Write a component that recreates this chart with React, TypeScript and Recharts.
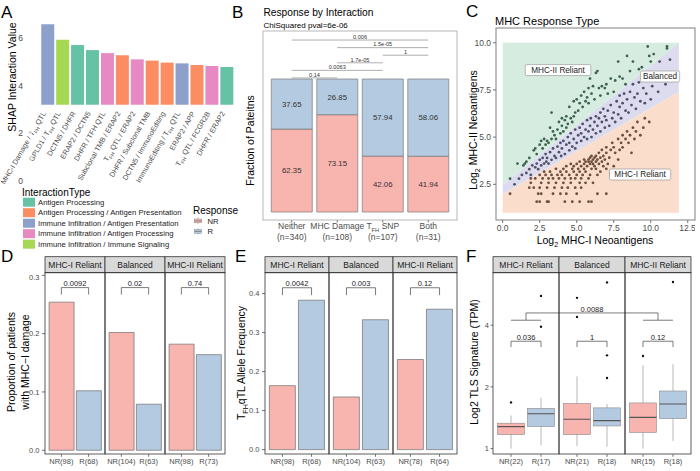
import React from 'react'
import {
  Area,
  Bar,
  BarChart,
  Cell,
  ComposedChart,
  LabelList,
  ReferenceDot,
  ReferenceLine,
  Scatter,
  XAxis,
  YAxis,
} from 'recharts'

// ---- shared look ----
const FONT = '"Liberation Sans", Arial, Helvetica, sans-serif'
const TICK = '#4D4D4D'
const NR_FILL = '#F8B4AE'
const R_FILL = '#B3CAE1'
const M0 = { top: 0, right: 0, bottom: 0, left: 0 }

// ---- A: SHAP interaction values ----
const INTERACTION_TYPES = [
  'Antigen Processing',
  'Antigen Processing / Antigen Presentation',
  'Immune Infiltration / Antigen Presentation',
  'Immune Infiltration / Antigen Processing',
  'Immune Infiltration / Immune Signaling',
]
const TYPE_COLORS = ['#66C2A5', '#FC8D62', '#8DA0CB', '#E78AC3', '#A6D854']
const SHAP_PAIRS = [
  'MHC-I Damage / T_{FH} QTL',
  'GPLD1 / T_{FH} QTL',
  'DCTN5 / DHFR',
  'ERAP2 / DCTN5',
  'DHFR / TFH QTL',
  'Subclonal TMB / ERAP2',
  'T_{FH} QTL / ERAP2',
  'DHFR / Subclonal TMB',
  'DCTN5 / ImmunoEditing',
  'ImmunoEditing / T_{FH} QTL',
  'ERAP2 / APP',
  'T_{FH} QTL / FCGR2B',
  'DHFR / ERAP2',
]
const SHAP_VALUES = [6.42, 5.18, 4.76, 4.36, 4.12, 3.94, 3.62, 3.52, 3.36, 3.3, 3.17, 3.09, 3.01]
const SHAP_TYPE = [2, 4, 0, 0, 3, 1, 3, 1, 1, 2, 1, 3, 0]
const SHAP_TICKS = [0, 2, 4, 6]
const SHAP_DOMAIN = [-0.34, 6.76]
const RESPONSES = ['NR', 'R']

// ---- B: response by interaction ----
const B_GROUPS = ['Neither', 'MHC Damage', 'T_{FH} SNP', 'Both']
const B_COUNTS = ['(n=340)', '(n=108)', '(n=107)', '(n=31)']
const B_NR = [62.35, 73.15, 42.06, 41.94]
const B_R = [37.65, 26.85, 57.94, 58.06]
const B_PAIR_FROM = ['Neither', 'MHC Damage', 'T_{FH} SNP', 'MHC Damage', 'Neither', 'Neither']
const B_PAIR_TO = ['Both', 'Both', 'Both', 'T_{FH} SNP', 'T_{FH} SNP', 'MHC Damage']
const B_PAIR_P = ['0.006', '1.5e-05', '1', '1.7e-05', '0.0063', '0.14']
const B_PAIR_LEVEL = [5, 4, 3, 2, 1, 0]

// ---- C: MHC response type ----
const REGION_X = [0, 11.9]
const REGION_FLOOR = [1.0, 1.0]
const MHC1_EDGE = [1.98, 7.4]
const MHC2_EDGE = [2.47, 10.0]
const REGION_CEIL = [10.0, 10.0]
const REGION_NAMES = ['MHC-II Reliant', 'Balanced', 'MHC-I Reliant']
const REGION_TAG_X = [3.74, 10.63, 9.28]
const REGION_TAG_Y = [8.55, 8.21, 3.02]

const MHC2_POINTS = [
  [0.5, 2.8], [1.0, 3.6], [1.4, 3.5], [1.5, 3.6], [1.6, 3.7], [1.8, 3.9], [2.1, 4.3], [2.2, 4.4],
  [2.3, 4.1], [2.5, 4.6], [2.6, 4.8], [2.7, 4.4], [2.8, 4.9], [2.9, 4.6], [3.0, 4.8], [3.1, 4.7],
  [3.2, 5.5], [3.3, 6.3], [3.3, 4.9], [3.4, 5.3], [3.5, 5.1], [3.6, 4.9], [3.7, 5.4], [3.8, 5.8],
  [3.9, 5.2], [4.0, 5.6], [4.0, 6.0], [4.1, 5.3], [4.2, 5.9], [4.3, 5.5], [4.3, 6.1], [4.4, 5.7],
  [4.5, 6.6], [4.6, 6.0], [4.7, 5.8], [4.8, 6.9], [4.8, 6.1], [4.9, 6.3], [5.0, 7.0], [5.1, 6.4],
  [5.2, 6.8], [5.3, 7.2], [5.4, 6.6], [5.5, 7.4], [5.6, 6.9], [5.7, 7.1], [5.8, 7.6], [5.8, 6.8],
  [5.9, 8.1], [6.0, 7.3], [6.1, 7.7], [6.2, 7.0], [6.3, 8.4], [6.4, 8.5], [6.5, 7.6], [6.6, 7.2],
  [6.7, 7.7], [6.9, 7.6], [7.0, 7.8], [7.1, 7.3], [7.3, 8.1], [7.5, 7.4], [7.6, 8.0], [7.8, 9.0],
  [7.9, 8.2], [8.1, 8.1], [8.3, 7.8], [8.4, 9.3], [8.6, 8.5], [8.8, 9.0], [9.2, 8.6], [9.4, 8.7],
  [9.8, 9.8], [9.9, 9.3], [10.0, 9.0], [10.2, 9.4], [11.1, 9.8], [11.1, 9.7],
]
const BALANCED_POINTS = [
  [0.8, 2.5], [1.1, 2.8], [1.3, 3.0], [1.6, 3.1], [1.8, 3.3], [1.9, 3.0], [2.0, 3.5],
  [2.2, 3.4], [2.3, 3.6], [2.4, 3.3], [2.5, 3.8], [2.6, 3.5], [2.7, 3.9], [2.8, 3.6], [2.9, 4.1], [2.95, 3.7],
  [3.0, 3.9], [3.1, 3.6], [3.2, 4.2], [3.3, 3.8], [3.4, 4.4], [3.5, 4.0], [3.6, 3.9], [3.7, 4.5],
  [3.8, 4.2], [3.9, 4.7], [3.95, 4.0],
  [4.0, 4.4], [4.1, 4.8], [4.2, 4.1], [4.3, 4.6], [4.4, 5.0], [4.5, 4.3], [4.5, 4.7], [4.6, 5.2],
  [4.7, 4.5], [4.8, 4.9], [4.9, 5.4], [4.9, 4.4],
  [5.0, 4.7], [5.1, 5.1], [5.2, 5.5], [5.3, 4.8], [5.3, 5.2], [5.4, 5.7], [5.5, 5.0], [5.6, 5.4],
  [5.7, 5.9], [5.7, 4.9], [5.8, 5.3], [5.9, 5.6], [5.95, 6.0],
  [6.0, 5.0], [6.1, 5.4], [6.2, 5.8], [6.3, 6.1], [6.3, 5.2], [6.4, 5.6], [6.5, 6.0], [6.6, 5.3],
  [6.6, 6.3], [6.7, 5.8], [6.8, 6.5], [6.9, 5.5], [6.9, 6.1],
  [7.0, 5.9], [7.1, 6.4], [7.2, 5.6], [7.3, 6.7], [7.4, 6.0], [7.5, 6.3], [7.6, 5.8], [7.7, 6.9],
  [7.8, 6.2], [7.9, 6.6], [7.9, 7.2],
  [8.0, 6.0], [8.1, 6.8], [8.2, 7.3], [8.3, 6.4], [8.4, 7.0], [8.5, 6.3], [8.6, 7.4], [8.7, 6.7],
  [8.8, 7.8], [8.9, 7.1],
  [9.0, 6.5], [9.1, 7.3], [9.2, 7.9], [9.3, 6.9], [9.5, 7.6], [9.6, 6.8], [9.7, 7.3], [9.8, 8.2],
  [10.0, 7.0], [10.1, 7.7], [10.3, 8.0], [10.5, 7.4], [10.6, 9.0], [10.8, 8.1], [11.3, 9.1], [11.0, 7.8],
]
const MHC1_POINTS = [
  [2.3, 1.58], [2.5, 1.58], [3.0, 1.58], [3.1, 1.58], [4.2, 1.58], [4.7, 1.58], [5.2, 1.58], [5.8, 1.58], [6.0, 1.58],
  [0.5, 2.0], [2.4, 2.0], [2.6, 2.0], [3.4, 2.0], [3.9, 2.0], [4.3, 2.0], [5.0, 2.0], [6.4, 2.0], [7.0, 2.0],
  [1.8, 2.32], [2.1, 2.32], [2.5, 2.32], [3.0, 2.32], [3.5, 2.32], [4.0, 2.32], [4.4, 2.32], [4.9, 2.32], [5.3, 2.32],
  [1.9, 2.58], [2.6, 2.58], [3.1, 2.58], [3.6, 2.58], [4.1, 2.58], [4.6, 2.58], [5.2, 2.58], [5.6, 2.58], [6.1, 2.58],
  [1.9, 2.81], [2.2, 2.81], [2.7, 2.81], [3.1, 2.81], [3.4, 2.81], [3.8, 2.81], [4.2, 2.81], [4.6, 2.81],
  [4.9, 2.81], [5.3, 2.81], [5.8, 2.81],
  [2.5, 3.0], [2.9, 3.0], [3.3, 3.0], [3.7, 3.0], [4.0, 3.0], [4.5, 3.0], [5.0, 3.0], [5.4, 3.0],
  [5.9, 3.0], [6.4, 3.0], [7.3, 3.0],
  [2.8, 3.17], [3.2, 3.17], [3.9, 3.17], [4.3, 3.17], [4.8, 3.17], [5.2, 3.17], [5.6, 3.17], [6.6, 3.17],
  [3.6, 3.32], [4.1, 3.32], [4.7, 3.32], [5.1, 3.32], [5.5, 3.32], [6.0, 3.32], [6.3, 3.32], [7.0, 3.32],
  [4.3, 3.46], [4.8, 3.46], [5.3, 3.46], [5.7, 3.46], [6.2, 3.46], [6.8, 3.46], [7.5, 3.46],
  [4.6, 3.58], [5.0, 3.58], [5.5, 3.58], [5.9, 3.58], [6.1, 3.58], [6.5, 3.58], [7.1, 3.58],
  [5.2, 3.7], [5.6, 3.7], [5.8, 3.7], [6.0, 3.7], [6.3, 3.7], [6.7, 3.7],
  [5.5, 3.81], [5.8, 3.81], [6.1, 3.81], [6.4, 3.81], [6.9, 3.81], [7.8, 3.81],
  [5.9, 3.91], [6.2, 3.91], [6.6, 3.91], [7.2, 3.91],
  [6.0, 4.0], [6.3, 4.0], [6.8, 4.0],
  [6.5, 4.17], [7.0, 4.17], [7.6, 4.17], [8.7, 4.17],
  [6.7, 4.32], [7.3, 4.32], [7.9, 4.32],
  [7.0, 4.46], [7.5, 4.46], [8.1, 4.46],
  [7.4, 4.7], [8.0, 4.7], [8.5, 4.7],
  [7.8, 4.9], [8.3, 4.9], [8.9, 4.9],
  [8.1, 5.1], [8.6, 5.1], [9.3, 5.1],
  [8.4, 5.3], [9.0, 5.3], [8.8, 5.5], [9.5, 5.5], [9.1, 5.8], [9.9, 5.8], [9.6, 6.0],
]

// ---- D/E/F: facets by response type ----
const FACETS = ['MHC-I Reliant', 'Balanced', 'MHC-II Reliant']
const D_LABELS = [['NR(98)', 'R(68)'], ['NR(104)', 'R(63)'], ['NR(98)', 'R(73)']]
const D_VALUES = [[0.254, 0.102], [0.202, 0.079], [0.182, 0.164]]
const D_P = ['0.0092', '0.02', '0.74']
const E_LABELS = [['NR(98)', 'R(68)'], ['NR(104)', 'R(63)'], ['NR(78)', 'R(64)']]
const E_VALUES = [[0.164, 0.383], [0.135, 0.333], [0.231, 0.36]]
const E_P = ['0.0042', '0.003', '0.12']
const F_LABELS = [['NR(22)', 'R(17)'], ['NR(21)', 'R(18)'], ['NR(15)', 'R(18)']]
const F_LOW = [[1.0, 1.04], [1.03, 1.02], [1.0, 1.09]]
const F_Q1 = [[1.17, 1.28], [1.17, 1.29], [1.2, 1.4]]
const F_MED = [[1.28, 1.48], [1.39, 1.37], [1.42, 1.65]]
const F_Q3 = [[1.33, 1.57], [1.66, 1.58], [1.67, 1.91]]
const F_HIGH = [[1.45, 1.77], [2.25, 1.65], [2.55, 2.58]]
const F_OUT = [[[1.68], [3.93, 5.56]], [[4.39, 5.44], [2.21, 2.85, 6.47]], [[2.83], [6.5]]]
const F_P = ['0.036', '1', '0.12']
const F_ACROSS_P = '0.0088'

// subscript markup: "T_{FH}" -> T with FH lowered
function rich(text: string, fs: number) {
  const parts = text.split(/(_\{[^}]*\})/).filter(Boolean)
  let low = false
  return parts.map((p, i) => {
    if (p.startsWith('_{')) {
      low = true
      return (
        <tspan key={i} dy={fs * 0.3} fontSize={fs * 0.68}>
          {p.slice(2, -1)}
        </tspan>
      )
    }
    const dy = low ? -fs * 0.3 : undefined
    low = false
    return (
      <tspan key={i} dy={dy}>
        {p}
      </tspan>
    )
  })
}

function ShapTick(props: any) {
  const { x, y, payload } = props
  return (
    <text
      transform={`translate(${x - 4},${y}) rotate(-60)`}
      textAnchor='end'
      dy='0.35em'
      fontSize={7.2}
      fill={TICK}
    >
      {rich(payload.value, 7.2)}
    </text>
  )
}

function PanelA() {
  const data = SHAP_PAIRS.map((name, i) => ({ name, value: SHAP_VALUES[i], type: SHAP_TYPE[i] }))
  return (
    <div style={{ position: 'absolute', left: 0, top: 20 }}>
      <BarChart width={236} height={169} data={data} margin={{ top: 0, right: 0, bottom: 0, left: 39 }} barCategoryGap='5%'>
        <XAxis
          dataKey='name'
          interval={0}
          tick={<ShapTick />}
          tickLine={false}
          axisLine={false}
          tickSize={0}
          tickMargin={3}
          height={80}
          padding={{ left: 1.5, right: 1.5 }}
        />
        <YAxis hide domain={SHAP_DOMAIN} allowDataOverflow />
        <Bar dataKey='value' isAnimationActive={false}>
          {data.map((d, i) => (
            <Cell key={i} fill={TYPE_COLORS[d.type]} />
          ))}
        </Bar>
      </BarChart>
    </div>
  )
}

// value axis of A: same domain and height as the bar chart, default tick spacing
function PanelAAxis() {
  const data = SHAP_VALUES.map((value) => ({ value }))
  return (
    <div style={{ position: 'absolute', left: 0, top: 20 }}>
      <BarChart width={33} height={169} data={data} margin={M0}>
        <XAxis hide height={80} />
        <YAxis
          domain={SHAP_DOMAIN}
          ticks={SHAP_TICKS}
          allowDataOverflow
          width={31}
          axisLine={{ stroke: '#fff' }}
          tickLine={{ stroke: '#fff' }}
          tick={{ fontSize: 8.5, fill: TICK }}
        />
        <Bar dataKey='value' fill='none' isAnimationActive={false} />
      </BarChart>
    </div>
  )
}

function BTick(props: any) {
  const { x, y, payload, index } = props
  return (
    <g>
      <text x={x} y={y} dy='0.72em' textAnchor='middle' fontSize={8.5} fill={TICK}>
        {rich(payload.value, 8.5)}
      </text>
      <text x={x} y={y + 10.5} dy='0.72em' textAnchor='middle' fontSize={8.5} fill={TICK}>
        {B_COUNTS[index]}
      </text>
    </g>
  )
}

function PanelB() {
  const data = B_GROUPS.map((name, i) => ({ name, nr: B_NR[i], r: B_R[i] }))
  return (
    <div style={{ position: 'absolute', left: 263, top: 31 }}>
      <BarChart width={194} height={215} data={data} margin={M0} barCategoryGap='5%'>
        <XAxis
          dataKey='name'
          interval={0}
          tick={(p: any) => <BTick {...p} />}
          tickSize={2.5}
          tickMargin={0.5}
          tickLine={{ stroke: '#333', strokeWidth: 0.7 }}
          axisLine={false}
          height={26}
          padding={{ left: 6, right: 6 }}
        />
        <YAxis hide domain={[-6, 136.1]} allowDataOverflow />
        <Bar dataKey='nr' stackId='s' fill={NR_FILL} stroke='#7a7a7a' strokeWidth={0.7} isAnimationActive={false}>
          <LabelList dataKey='nr' position='center' fontSize={7.8} fill='#333' formatter={(v: any) => Number(v).toFixed(2)} />
        </Bar>
        <Bar dataKey='r' stackId='s' fill={R_FILL} stroke='#7a7a7a' strokeWidth={0.7} isAnimationActive={false}>
          <LabelList dataKey='r' position='center' fontSize={7.8} fill='#333' formatter={(v: any) => Number(v).toFixed(2)} />
        </Bar>
        {B_PAIR_P.map((p, i) => {
          const yv = 100.8 + 5.7 * B_PAIR_LEVEL[i]
          return (
            <ReferenceLine
              key={i}
              segment={[
                { x: B_PAIR_FROM[i], y: yv },
                { x: B_PAIR_TO[i], y: yv },
              ]}
              stroke='#9a9a9a'
              strokeWidth={0.8}
              ifOverflow='visible'
              label={{ value: p, position: 'top', fontSize: 5.6, fill: '#333', offset: 1.2 }}
            />
          )
        })}
      </BarChart>
    </div>
  )
}

function RegionTag(props: any) {
  const { cx, cy, text } = props
  const w = text.length * 4.4 + 4
  return (
    <g>
      <rect x={cx - w / 2} y={cy - 5.5} width={w} height={11} rx={1.5} fill='#fff' stroke='#8c8c8c' strokeWidth={0.6} />
      <text x={cx} y={cy} dy='0.35em' textAnchor='middle' fontSize={8.2} fill='#222'>
        {text}
      </text>
    </g>
  )
}

function PanelC() {
  const regions = REGION_X.map((x, i) => ({
    x,
    floor: REGION_FLOOR[i],
    lowEdge: MHC1_EDGE[i],
    highEdge: MHC2_EDGE[i],
    ceil: REGION_CEIL[i],
  }))
  const pts = (arr: number[][]) => arr.map(([x, y]) => ({ x, y }))
  const dot = (color: string) => (p: any) => <circle cx={p.cx} cy={p.cy} r={1.4} fill={color} />
  return (
    <div style={{ position: 'absolute', left: 466, top: 28 }}>
      <ComposedChart width={229} height={212} data={regions} margin={M0}>
        <XAxis
          type='number'
          dataKey='x'
          domain={[-0.45, 12.99]}
          ticks={[0, 2.5, 5, 7.5, 10, 12.5]}
          tickFormatter={(v: number) => v.toFixed(1)}
          allowDataOverflow
          axisLine={false}
          tickSize={3}
          tickMargin={2}
          tickLine={{ stroke: '#333', strokeWidth: 0.7 }}
          tick={{ fontSize: 8.5, fill: TICK }}
          height={20}
        />
        <YAxis
          type='number'
          dataKey='y'
          domain={[0.61, 10.78]}
          ticks={[2.5, 5, 7.5, 10]}
          tickFormatter={(v: number) => v.toFixed(1)}
          allowDataOverflow
          width={30}
          axisLine={false}
          tickSize={3}
          tickMargin={2}
          tickLine={{ stroke: '#333', strokeWidth: 0.7 }}
          tick={{ fontSize: 8.5, fill: TICK }}
        />
        <Area type='linear' dataKey={(d: any) => [d.floor, d.lowEdge]} fill='#FBDDCB' fillOpacity={1} stroke='none' isAnimationActive={false} />
        <Area type='linear' dataKey={(d: any) => [d.lowEdge, d.highEdge]} fill='#DCDCEE' fillOpacity={1} stroke='none' isAnimationActive={false} />
        <Area type='linear' dataKey={(d: any) => [d.highEdge, d.ceil]} fill='#D7ECE0' fillOpacity={1} stroke='none' isAnimationActive={false} />
        <Scatter data={pts(MHC2_POINTS)} dataKey='y' shape={dot('#3E6350')} isAnimationActive={false} />
        <Scatter data={pts(BALANCED_POINTS)} dataKey='y' shape={dot('#50506C')} isAnimationActive={false} />
        <Scatter data={pts(MHC1_POINTS)} dataKey='y' shape={dot('#6E4E3D')} isAnimationActive={false} />
        {REGION_NAMES.map((name, i) => (
          <ReferenceDot
            key={name}
            x={REGION_TAG_X[i]}
            y={REGION_TAG_Y[i]}
            r={1}
            ifOverflow='visible'
            shape={(p: any) => <RegionTag cx={p.cx} cy={p.cy} text={name} />}
          />
        ))}
      </ComposedChart>
    </div>
  )
}

type FacetProps = {
  left: number
  width: number
  yWidth: number
  showY: boolean
}

const PLOT_TOP = 272.7
const PLOT_H = 181.3

function bracketLines(labels: string[], hi: number, lo: number, p: string, axisId?: string) {
  const common = { stroke: '#444', strokeWidth: 0.7, ifOverflow: 'visible' as const, xAxisId: axisId ?? 0 }
  return [
    <ReferenceLine
      key='h'
      {...common}
      segment={[
        { x: labels[0], y: hi },
        { x: labels[1], y: hi },
      ]}
      label={{ value: p, position: 'top', fontSize: 7.5, fill: '#222', offset: 1.5 }}
    />,
    <ReferenceLine key='l' {...common} segment={[{ x: labels[0], y: hi }, { x: labels[0], y: lo }]} />,
    <ReferenceLine key='r' {...common} segment={[{ x: labels[1], y: hi }, { x: labels[1], y: lo }]} />,
  ]
}

function BarFacet(props: FacetProps & {
  labels: string[]
  values: number[]
  domain: number[]
  ticks: number[]
  bracket: number[]
  p: string
}) {
  const { left, width, yWidth, showY, labels, values, domain, ticks, bracket, p } = props
  const data = labels.map((name, i) => ({ name, value: values[i] }))
  const pad = width / 22
  const yw = showY ? yWidth : 0
  return (
    <div style={{ position: 'absolute', left: left - yw, top: PLOT_TOP }}>
      <BarChart width={width + yw} height={PLOT_H + 16} data={data} margin={M0} barCategoryGap='5%'>
        <XAxis
          dataKey='name'
          interval={0}
          padding={{ left: pad, right: pad }}
          height={16}
          axisLine={false}
          tickSize={2.5}
          tickMargin={2}
          tickLine={{ stroke: '#333', strokeWidth: 0.7 }}
          tick={{ fontSize: 7.5, fill: TICK }}
        />
        <YAxis
          hide={!showY}
          width={yWidth}
          domain={domain}
          ticks={ticks}
          allowDataOverflow
          tickFormatter={(v: number) => v.toFixed(1)}
          axisLine={false}
          tickSize={3}
          tickMargin={2.5}
          tickLine={{ stroke: '#333', strokeWidth: 0.7 }}
          tick={{ fontSize: 7.5, fill: TICK }}
        />
        <Bar dataKey='value' stroke='#6e6e6e' strokeWidth={0.7} isAnimationActive={false}>
          {data.map((d, i) => (
            <Cell key={i} fill={i === 0 ? NR_FILL : R_FILL} />
          ))}
        </Bar>
        {bracketLines(labels, bracket[0], bracket[1], p)}
      </BarChart>
    </div>
  )
}

function BoxFacet(props: FacetProps & { index: number }) {
  const { left, width, yWidth, showY, index } = props
  const labels = F_LABELS[index]
  const rows = labels.map((name, j) => ({
    name,
    lo: F_LOW[index][j],
    q1: F_Q1[index][j],
    med: F_MED[index][j],
    q3: F_Q3[index][j],
    hi: F_HIGH[index][j],
    out: F_OUT[index][j],
  }))
  const pad = width / 22
  const boxW = (0.9 * (width - 2 * pad)) / 2
  const yw = showY ? yWidth : 0
  const cat = { dataKey: 'name', padding: { left: pad, right: pad }, allowDuplicatedCategory: false }
  // 'h' spans the whole facet: NR band = left half, R band = right half
  const line = { xAxisId: 'h', stroke: '#444', strokeWidth: 0.7, ifOverflow: 'visible' as const }
  const top = 4.59
  const foot = 4.23
  return (
    <div style={{ position: 'absolute', left: left - yw, top: PLOT_TOP }}>
      <ComposedChart width={width + yw} height={PLOT_H + 16} data={rows} margin={M0} barCategoryGap='5%'>
        <XAxis
          xAxisId='b'
          {...cat}
          interval={0}
          height={16}
          axisLine={false}
          tickSize={2.5}
          tickMargin={2}
          tickLine={{ stroke: '#333', strokeWidth: 0.7 }}
          tick={{ fontSize: 7.5, fill: TICK }}
        />
        <XAxis xAxisId='w' {...cat} hide />
        <XAxis xAxisId='h' dataKey='name' allowDuplicatedCategory={false} hide />
        <YAxis
          scale='log'
          domain={[0.938, 7.19]}
          ticks={[1, 2, 4]}
          allowDataOverflow
          hide={!showY}
          width={yWidth}
          axisLine={false}
          tickSize={2.5}
          tickMargin={1.5}
          tickLine={{ stroke: '#333', strokeWidth: 0.7 }}
          tick={{ fontSize: 7.5, fill: TICK }}
        />
        <Bar
          xAxisId='w'
          dataKey={(d: any) => [d.lo, d.hi]}
          isAnimationActive={false}
          shape={(s: any) => (
            <line x1={s.x + s.width / 2} x2={s.x + s.width / 2} y1={s.y} y2={s.y + s.height} stroke='#9a9a9a' strokeWidth={0.7} />
          )}
        />
        <Bar
          xAxisId='b'
          dataKey={(d: any) => [d.q1, d.q3]}
          isAnimationActive={false}
          shape={(s: any) => (
            <rect
              x={s.x}
              y={Math.min(s.y, s.y + s.height)}
              width={s.width}
              height={Math.abs(s.height)}
              fill={s.index === 0 ? NR_FILL : R_FILL}
              stroke='#8a8a8a'
              strokeWidth={0.6}
            />
          )}
        />
        <Scatter
          xAxisId='b'
          dataKey='med'
          isAnimationActive={false}
          shape={(s: any) => (
            <line x1={s.cx - boxW / 2} x2={s.cx + boxW / 2} y1={s.cy} y2={s.cy} stroke='#555' strokeWidth={1.1} />
          )}
        />
        {[0, 1, 2].map((k) => (
          <Scatter
            key={k}
            xAxisId='b'
            dataKey={(d: any) => (d.out[k] === undefined ? null : d.out[k])}
            isAnimationActive={false}
            shape={(s: any) =>
              s.payload && s.payload.out && s.payload.out[k] !== undefined && Number.isFinite(s.cy) ? (
                <circle cx={s.cx} cy={s.cy} r={1.2} fill='#111' />
              ) : (
                <g />
              )
            }
          />
        ))}
        {bracketLines(labels, 3.34, 3.13, F_P[index], 'b')}
        {index === 0 && [
          <ReferenceLine key='a1' {...line} position='end' segment={[{ x: labels[0], y: top }, { x: labels[1], y: top }]} />,
          <ReferenceLine key='a2' {...line} position='end' segment={[{ x: labels[0], y: top }, { x: labels[0], y: foot }]} />,
          <ReferenceLine key='a3' {...line} xAxisId='b' segment={[{ x: labels[0], y: foot }, { x: labels[1], y: foot }]} />,
        ]}
        {index === 1 && (
          <ReferenceLine
            {...line}
            y={top}
            label={{ value: F_ACROSS_P, position: 'top', fontSize: 7.5, fill: '#222', offset: 0.5 }}
          />
        )}
        {index === 2 && [
          <ReferenceLine key='c1' {...line} position='start' segment={[{ x: labels[0], y: top }, { x: labels[1], y: top }]} />,
          <ReferenceLine key='c2' {...line} position='start' segment={[{ x: labels[1], y: top }, { x: labels[1], y: foot }]} />,
          <ReferenceLine key='c3' {...line} xAxisId='b' segment={[{ x: labels[0], y: foot }, { x: labels[1], y: foot }]} />,
        ]}
      </ComposedChart>
    </div>
  )
}

function Strips({ left, width }: { left: number; width: number }) {
  return (
    <g>
      {FACETS.map((f, i) => (
        <g key={f}>
          <rect x={left + width * i} y={256.7} width={width} height={16} fill='#D9D9D9' stroke='#333' strokeWidth={0.8} />
          <text x={left + width * i + width / 2} y={264.7} dy='0.35em' textAnchor='middle' fontSize={8.5} fill='#1A1A1A'>
            {f}
          </text>
          <rect x={left + width * i} y={PLOT_TOP} width={width} height={PLOT_H} fill='none' stroke='#333' strokeWidth={0.8} />
        </g>
      ))}
    </g>
  )
}

function Overlay() {
  return (
    <svg
      width={700}
      height={471}
      style={{ position: 'absolute', left: 0, top: 0, pointerEvents: 'none' }}
      fontFamily={FONT}
    >
      {/* panel letters */}
      <text x={1} y={18.3} fontSize={17}>A</text>
      <text x={232} y={18} fontSize={17}>B</text>
      <text x={466} y={17} fontSize={17}>C</text>
      <text x={1} y={262} fontSize={17}>D</text>
      <text x={235} y={262} fontSize={17}>E</text>
      <text x={466} y={262} fontSize={17}>F</text>

      {/* A */}
      <text transform='translate(15.5,77) rotate(-90)' textAnchor='middle' fontSize={10.5}>
        SHAP Interaction Value
      </text>
      <text x={22} y={196} fontSize={10}>InteractionType</text>
      {INTERACTION_TYPES.map((t, i) => (
        <g key={t}>
          <rect x={23} y={197.7 + 10.5 * i} width={12} height={9} fill={TYPE_COLORS[i]} />
          <text x={38} y={202.2 + 10.5 * i} dy='0.35em' fontSize={7.7} fill='#222'>
            {t}
          </text>
        </g>
      ))}
      <text x={193} y={214} fontSize={10}>Response</text>
      {RESPONSES.map((r, i) => (
        <g key={r}>
          <line x1={198} x2={198} y1={217.5 + 10.5 * i} y2={224 + 10.5 * i} stroke='#999' strokeWidth={0.6} />
          <rect x={194.5} y={219 + 10.5 * i} width={7} height={3.8} fill={i === 0 ? NR_FILL : R_FILL} stroke='#8a8a8a' strokeWidth={0.5} />
          <line x1={194.5} x2={201.5} y1={220.9 + 10.5 * i} y2={220.9 + 10.5 * i} stroke='#555' strokeWidth={0.6} />
          <text x={207.5} y={220.9 + 10.5 * i} dy='0.35em' fontSize={7.7} fill='#222'>
            {r}
          </text>
        </g>
      ))}

      {/* B */}
      <text x={263.5} y={16} fontSize={10.2}>Response by Interaction</text>
      <text x={263.5} y={27.5} fontSize={8}>ChiSquared pval=6e-06</text>
      <text transform='translate(253.5,140.5) rotate(-90)' textAnchor='middle' fontSize={10.5}>
        Fraction of Pateitns
      </text>
      <rect x={263} y={31} width={194} height={189} fill='none' stroke='#A6A6A6' strokeWidth={0.8} />

      {/* C */}
      <text x={495} y={24.5} fontSize={11}>MHC Response Type</text>
      <rect x={496} y={28} width={199} height={192} fill='none' stroke='#808080' strokeWidth={1} />
      <text transform='translate(477,130) rotate(-90)' textAnchor='middle' fontSize={10.5}>
        {rich('Log_{2} MHC-II Neoantigens', 10.5)}
      </text>
      <text x={595} y={244} textAnchor='middle' fontSize={10.5}>
        {rich('Log_{2} MHC-I Neoantigens', 10.5)}
      </text>

      {/* D */}
      <Strips left={45} width={60} />
      <text transform='translate(14.5,362) rotate(-90)' textAnchor='middle' fontSize={10.5}>
        Proportion of patients
      </text>
      <text transform='translate(28.5,362) rotate(-90)' textAnchor='middle' fontSize={10.5}>
        with MHC−I damage
      </text>

      {/* E */}
      <Strips left={265} width={64} />
      <text transform='translate(244.5,363) rotate(-90)' textAnchor='middle' fontSize={10.5}>
        {rich('T_{FH}qTL Allele Frequency', 10.5)}
      </text>

      {/* F */}
      <Strips left={493} width={66} />
      <text transform='translate(478,362) rotate(-90)' textAnchor='middle' fontSize={10.5}>
        Log2 TLS Signature (TPM)
      </text>
    </svg>
  )
}

export default function App() {
  return (
    <div
      style={{
        position: 'absolute',
        left: 0,
        top: 0,
        width: 700,
        height: 471,
        background: '#fff',
        fontFamily: FONT,
        overflow: 'hidden',
      }}
    >
      <PanelA />
      <PanelB />
      <PanelC />
      {FACETS.map((f, i) => (
        <BarFacet
          key={'d' + f}
          left={45 + 60 * i}
          width={60}
          yWidth={45}
          showY={i === 0}
          labels={D_LABELS[i]}
          values={D_VALUES[i]}
          domain={[-0.0069, 0.304]}
          ticks={[0, 0.1, 0.2, 0.3]}
          bracket={[0.279, 0.267]}
          p={D_P[i]}
        />
      ))}
      {FACETS.map((f, i) => (
        <BarFacet
          key={'e' + f}
          left={265 + 64 * i}
          width={64}
          yWidth={30}
          showY={i === 0}
          labels={E_LABELS[i]}
          values={E_VALUES[i]}
          domain={[-0.012, 0.4528]}
          ticks={[0, 0.1, 0.2, 0.3, 0.4]}
          bracket={[0.415, 0.396]}
          p={E_P[i]}
        />
      ))}
      {FACETS.map((f, i) => (
        <BoxFacet key={'f' + f} left={493 + 66 * i} width={66} yWidth={24} showY={i === 0} index={i} />
      ))}
      <Overlay />
      <PanelAAxis />
    </div>
  )
}
